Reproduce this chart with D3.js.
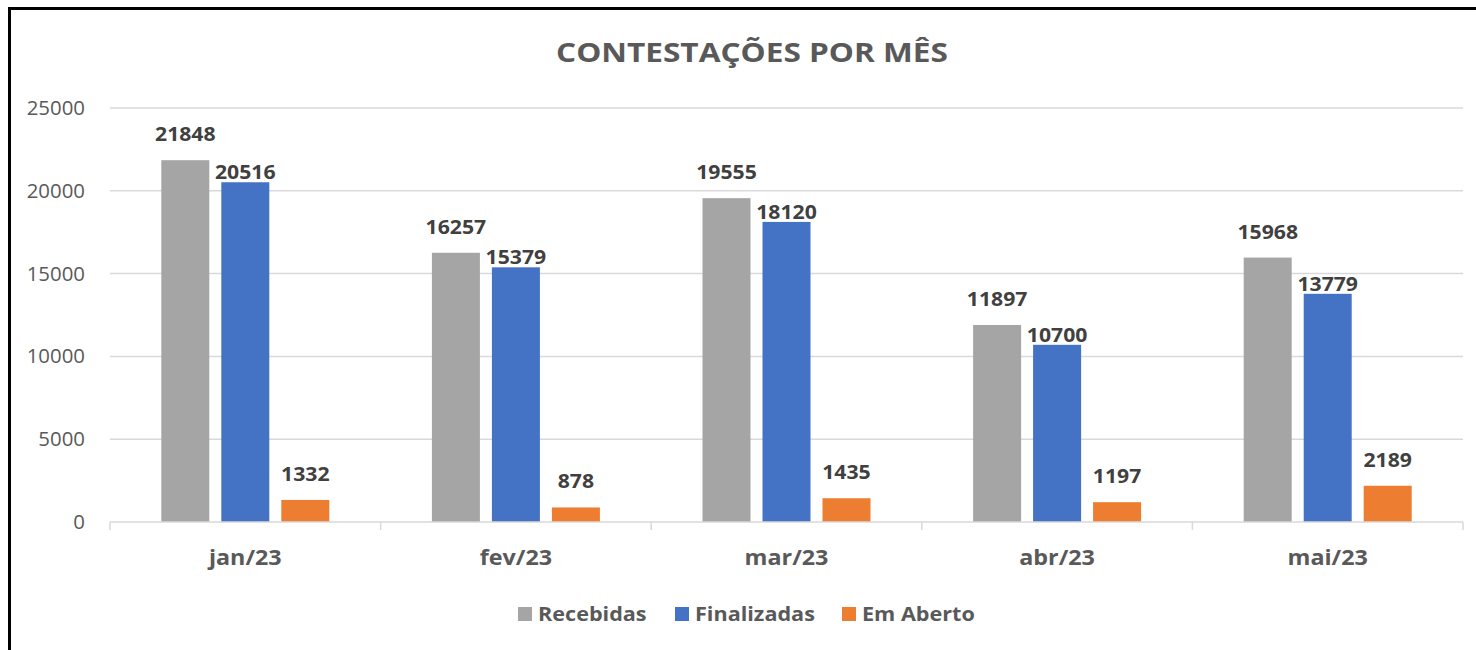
<!DOCTYPE html>
<html>
<head>
<meta charset="utf-8">
<script src="https://cdn.jsdelivr.net/npm/d3@7"></script>
<style>
html,body{margin:0;padding:0;background:#fff;}
svg{display:block;}
text{font-family:"Open Sans",sans-serif;}
</style>
</head>
<body>
<svg id="chart" width="1476" height="650"></svg>
<script>
const categories = ["jan/23","fev/23","mar/23","abr/23","mai/23"];
const seriesNames = ["Recebidas","Finalizadas","Em Aberto"];
const recebidas = [21848,16257,19555,11897,15968];
const finalizadas = [20516,15379,18120,10700,13779];
const emAberto = [1332,878,1435,1197,2189];
const yTicks = [0,5000,10000,15000,20000,25000];
const colors = ["#A5A5A5","#4472C4","#ED7D31"];
const chartTitle = "CONTESTAÇÕES POR MÊS";

const seriesValues = [recebidas, finalizadas, emAberto];
const svg = d3.select("#chart");

// horizontal stretch helper (reference glyphs are slightly wider than Open Sans)
function stretch(sel, factor){
  sel.each(function(){
    const w = this.getComputedTextLength();
    d3.select(this).attr("textLength", w*factor).attr("lengthAdjust","spacingAndGlyphs");
  });
}

// frame
svg.append("rect").attr("x",9.5).attr("y",8.5).attr("width",1500).attr("height",700)
  .attr("fill","none").attr("stroke","#000").attr("stroke-width",3);

const plotLeft = 110, plotRight = 1463, plotTop = 108, plotBottom = 522;
const x0 = d3.scaleBand().domain(categories).range([plotLeft,plotRight]).padding(0);
const groupW = 168;
const x1 = d3.scaleBand().domain(seriesNames).range([0,groupW]).paddingInner(0.2).paddingOuter(0);
const y = d3.scaleLinear().domain([0,25000]).range([plotBottom,plotTop]);

// gridlines
svg.append("g").selectAll("line").data(yTicks.filter(d=>d>0)).join("line")
  .attr("x1",plotLeft).attr("x2",plotRight).attr("y1",d=>y(d)).attr("y2",d=>y(d))
  .attr("stroke","#D9D9D9").attr("stroke-width",1.5);

// y axis labels
const yAxis = d3.axisLeft(y).tickValues(yTicks).tickSize(0).tickPadding(0).tickFormat(d3.format("d"));
const gy = svg.append("g").attr("transform",`translate(85,0)`).call(yAxis);
gy.select(".domain").remove();
gy.selectAll("text").attr("font-size",20).attr("fill","#595959").attr("font-family","Open Sans");
stretch(gy.selectAll("text"),1.02);

// bars
const groups = svg.append("g").selectAll("g").data(categories).join("g")
  .attr("transform",d=>`translate(${x0(d)+(x0.bandwidth()-groupW)/2},0)`);
const barData = (c,i)=>seriesNames.map((s,k)=>({s,k,v:seriesValues[k][i]}));
groups.each(function(c,i){
  const g = d3.select(this);
  const bd = barData(c,i);
  g.selectAll("rect").data(bd).join("rect")
    .attr("x",d=>x1(d.s)).attr("width",x1.bandwidth())
    .attr("y",d=>y(d.v)).attr("height",d=>y(0)-y(d.v))
    .attr("fill",d=>colors[d.k]);
  const t = g.selectAll("text").data(bd).join("text")
    .attr("x",d=>x1(d.s)+x1.bandwidth()/2)
    .attr("y",d=>y(d.v)-(d.k===1?3:19))
    .attr("text-anchor","middle")
    .attr("font-size",20).attr("font-weight","bold").attr("fill","#404040")
    .text(d=>d.v);
  stretch(t,1.06);
});

// x axis
const gx = svg.append("g").attr("transform",`translate(0,${plotBottom})`);
gx.append("line").attr("x1",plotLeft).attr("x2",plotRight).attr("y1",0).attr("y2",0)
  .attr("stroke","#D9D9D9").attr("stroke-width",1.5);
const boundaries = categories.map(c=>x0(c)).concat([plotRight]);
gx.selectAll(".tk").data(boundaries).join("line").attr("class","tk")
  .attr("x1",d=>d).attr("x2",d=>d).attr("y1",0).attr("y2",8)
  .attr("stroke","#D9D9D9").attr("stroke-width",1.5);
const xl = gx.selectAll(".lbl").data(categories).join("text").attr("class","lbl")
  .attr("x",d=>x0(d)+x0.bandwidth()/2).attr("y",43)
  .attr("text-anchor","middle").attr("font-size",21).attr("font-weight","bold").attr("fill","#595959")
  .text(d=>d);
stretch(xl,1.11);

// title
const tt = svg.append("text").attr("x",752).attr("y",62).attr("text-anchor","middle")
  .attr("font-size",27).attr("font-weight","bold").attr("fill","#595959").text(chartTitle);
stretch(tt,1.17);

// legend
const legendX = [518, 675, 842];
const lg = svg.append("g").selectAll("g").data(seriesNames).join("g")
  .attr("transform",(d,i)=>`translate(${legendX[i]},607)`);
lg.append("rect").attr("width",14).attr("height",14).attr("fill",(d,i)=>colors[i]);
const lt = lg.append("text").attr("x",20).attr("y",14).attr("font-size",20).attr("font-weight","bold").attr("fill","#595959").text(d=>d);
stretch(lt,1.08);
</script>
</body>
</html>
